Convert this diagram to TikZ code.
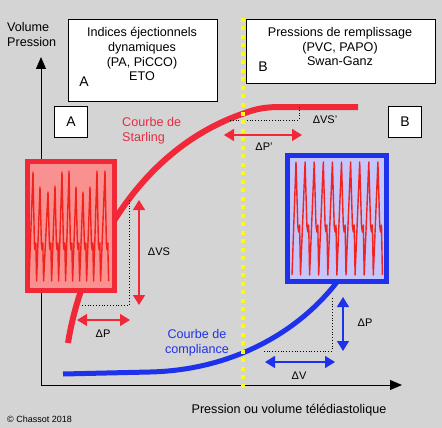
\documentclass[tikz,border=0pt]{standalone}
\usepackage{fontspec}
\setmainfont{Liberation Sans}
\usetikzlibrary{arrows.meta}
\definecolor{bggray}{RGB}{212,212,212}
\definecolor{starred}{RGB}{240,40,55}
\definecolor{textred}{RGB}{228,45,65}
\definecolor{compblue}{RGB}{30,50,235}
\definecolor{redfill}{RGB}{250,145,145}
\definecolor{bluefill}{RGB}{198,198,250}
\definecolor{wavered}{RGB}{240,35,30}
\definecolor{guideyellow}{RGB}{255,250,20}

\tikzset{
	axis/.style={line width=1pt, -{Triangle[length=12pt,width=10pt]}},
	infobox/.style={draw=black, fill=white, line width=0.8pt, inner sep=0pt},
	tagbox/.style={draw=black, fill=white, line width=0.8pt, inner sep=0pt,
		minimum width=33pt, minimum height=31pt, font=\fontsize{14}{14}\selectfont},
	label/.style={inner sep=0pt, font=\fontsize{12.6}{14.8}\selectfont},
	delta/.style={inner sep=0pt, font=\fontsize{11}{13}\selectfont},
	wave/.style={wavered, line width=1.4pt, line join=round},
	guide/.style={black, line width=0.8pt, dotted},
	redarrow/.style={starred, line width=1.5pt, {Triangle[length=10pt,width=12pt]}-{Triangle[length=10pt,width=12pt]}},
	bluearrow/.style={compblue, line width=1.5pt, {Triangle[length=10pt,width=12pt]}-{Triangle[length=10pt,width=12pt]}}
}

\begin{document}
\begin{tikzpicture}[x=1pt, y=-1pt]
	\fill[bggray] (0,0) rectangle (442,428);
	\useasboundingbox (0,0) rectangle (442,428);

	\path
	(41,385) coordinate (O)
	(41,57) coordinate (Ytip)
	(402,385) coordinate (Xtip)
	(243,18) coordinate (Y1)
	(243,388) coordinate (Y2);

	\draw[axis] (O)--(Ytip);
	\draw[axis] (O)--(Xtip);

	\node[label, anchor=north west, align=left] (yname) at (7,22) {Volume\\Pression};
	\node[label] (xname) at (289,410) {Pression ou volume télédiastolique};
	\node[inner sep=0pt, anchor=west, font=\fontsize{9}{10}\selectfont] (copy) at (7,419) {© Chassot 2018};

	\node[infobox, anchor=north west, minimum width=149pt, minimum height=82pt] (dynbox) at (68,19) {};
	\node[label, anchor=north, align=center] (dyntext) at (142,27) {Indices éjectionnels\\dynamiques\\(PA, PiCCO)\\ETO};
	\node[inner sep=0pt, font=\fontsize{14}{14}\selectfont] (dynA) at (84,82) {A};

	\node[infobox, anchor=north west, minimum width=189pt, minimum height=64pt] (presbox) at (246,19) {};
	\node[label, anchor=north, align=center] (prestext) at (340,27) {Pressions de remplissage\\(PVC, PAPO)\\Swan-Ganz};
	\node[inner sep=0pt, font=\fontsize{14}{14}\selectfont] (presB) at (263,67) {B};

	\node[tagbox] (tagA) at (71,122) {A};
	\node[tagbox] (tagB) at (405,122) {B};

	\draw[starred, line width=6pt]
	(68,343) .. controls (82,255) and (140,148) .. (245,113)
	.. controls (258,108) and (268,107) .. (282,107) -- (358,107);

	\draw[compblue, line width=5pt]
	(63,374) -- (150,372) .. controls (235,370) and (300,330) .. (337,282);

	\node[textred, label, anchor=north west, align=left] (starname) at (122,117) {Courbe de\\Starling};
	\node[compblue, label, align=center] (compname) at (197,343) {Courbe de\\compliance};

	\node[draw=starred, fill=redfill, line width=5pt, minimum width=87pt, minimum height=129pt, inner sep=0pt] (starbox) at (71,226) {};
	\draw[wave] (29,281)
	\foreach \p/\t in {33/172,40/187,48/192,55/186,62/172,69/171,76/187,83/192,90/187,97/171,105/171}
	{ -- (\p,\t) -- (\p+1.4,244) -- (\p+2.1,250) -- (\p+2.8,243) -- (\p+3.6,281) };

	\node[draw=compblue, fill=bluefill, line width=5pt, minimum width=99pt, minimum height=126pt, inner sep=0pt] (compbox) at (337,218.5) {};
	\draw[wave] (292,275)
	\foreach \p in {296,305.1,...,379}
	{ -- (\p,162) -- (\p+1.8,226) -- (\p+2.7,232) -- (\p+3.6,225) -- (\p+4.5,275) };

	\path
	(129,200) coordinate (sv1)
	(129,305) coordinate (sv2)
	(80,305) coordinate (sv3)
	(139,200) coordinate (svA)
	(139,305) coordinate (svB)
	(77,320) coordinate (spA)
	(130,320) coordinate (spB)
	(230,120) coordinate (tv1)
	(299,120) coordinate (tv2)
	(299,107) coordinate (tv3)
	(224,135) coordinate (tpA)
	(302,135) coordinate (tpB)
	(332,298) coordinate (bv1)
	(332,351) coordinate (bv2)
	(263,351) coordinate (bv3)
	(343,297) coordinate (bpA)
	(343,351) coordinate (bpB)
	(265,362) coordinate (bvA)
	(335,362) coordinate (bvB);

	\draw[guide] (sv1)--(sv2)--(sv3);
	\draw[guide] (tv1)--(tv2)--(tv3);
	\draw[guide] (bv1)--(bv2)--(bv3);

	\draw[redarrow] (svA)--(svB);
	\draw[redarrow] (spA)--(spB);
	\draw[redarrow] (tpA)--(tpB);
	\draw[bluearrow] (bpA)--(bpB);
	\draw[bluearrow] (bvA)--(bvB);

	\node[delta] (dVS) at (159,252) {ΔVS};
	\node[delta] (dP) at (103,334) {ΔP};
	\node[delta] (dVSp) at (325,120) {ΔVS'};
	\node[delta] (dPp) at (264,147) {ΔP'};
	\node[delta] (dPb) at (365,323) {ΔP};
	\node[delta] (dV) at (299,376) {ΔV};

	\draw[guideyellow, line width=4pt, dash pattern=on 4pt off 4.5pt] (Y1)--(Y2);
\end{tikzpicture}
\end{document}
